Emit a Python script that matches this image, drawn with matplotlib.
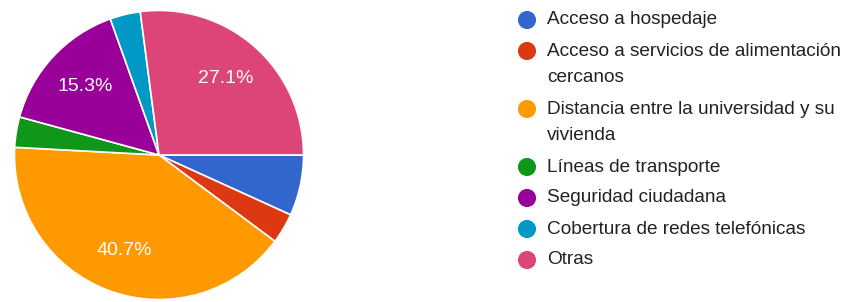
import matplotlib.pyplot as plt

labels = [
    "Acceso a hospedaje",
    "Acceso a servicios de alimentación\ncercanos",
    "Distancia entre la universidad y su\nvivienda",
    "Líneas de transporte",
    "Seguridad ciudadana",
    "Cobertura de redes telefónicas",
    "Otras",
]
percent = [6.8, 3.4, 40.7, 3.4, 15.3, 3.4, 27.1]
colors = ["#3366cc", "#dc3912", "#ff9900", "#109618", "#990099", "#0099c6", "#dd4477"]

plt.rcParams["font.family"] = ["Liberation Sans", "DejaVu Sans"]

fig = plt.figure(figsize=(8.53, 3.02), dpi=100)

# pie area, roughly 292 px wide on the left
ax = fig.add_axes([13 / 853, 1 / 302, 292 / 853, 292 / 302])
wedges, texts, autotexts = ax.pie(
    percent,
    colors=colors,
    startangle=0,
    counterclock=False,
    radius=1,
    autopct=lambda p: f"{p:.1f}%" if p > 10 else "",
    pctdistance=0.7,
    wedgeprops={"edgecolor": "white", "linewidth": 1.2},
    textprops={"color": "white", "fontsize": 14},
)
ax.set_xlim(-1.01, 1.01)
ax.set_ylim(-1.01, 1.01)
ax.set_aspect("equal")

# legend drawn in pixel coords
lax = fig.add_axes([0, 0, 1, 1])
lax.set_xlim(0, 853)
lax.set_ylim(302, 0)
lax.axis("off")
y = 20
for lab, col in zip(labels, colors):
    lax.scatter([527], [y], s=170, color=col, edgecolors="none")
    for k, line in enumerate(lab.split("\n")):
        lax.text(547, y + 27 * k, line, va="center", ha="left", fontsize=13.7,
                 color="#222222")
    y += 31 + 27 * lab.count("\n")

fig.savefig("out.png", dpi=100)
